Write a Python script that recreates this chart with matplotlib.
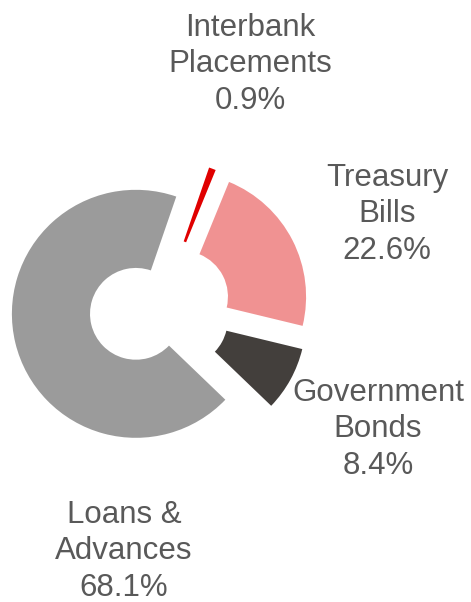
import matplotlib.pyplot as plt

# Portfolio split (clockwise from the top)
labels = ["Interbank\nPlacements", "Treasury\nBills", "Government\nBonds", "Loans &\nAdvances"]
shares = [0.9, 22.6, 8.4, 68.1]
colors = ["#E00000", "#F09292", "#433F3C", "#9B9B9B"]

# label anchors in pixel coords (x centre, baseline of last line, y measured up)
label_x = [250, 387, 378, 124]
label_y = [493, 343, 128, 6]

W, H = 471, 602
fig = plt.figure(figsize=(W / 100, H / 100), dpi=100)
ax = fig.add_axes([0, 0, 1, 1])

R = 124
cx, cy = 160, 602 - 308
# explode is in data units here, so scale it by the radius
ax.pie(
    shares,
    colors=colors,
    explode=[0.2 * R] * len(shares),
    startangle=71,
    counterclock=False,
    radius=R,
    center=(cx, cy),
    wedgeprops=dict(width=R * 0.63, linewidth=0),
)

for lab, val, x, y in zip(labels, shares, label_x, label_y):
    ax.text(x, y, f"{lab}\n{val:.1f}%", ha="center", va="baseline",
            fontsize=22.5, color="#595959", family=["Liberation Sans", "DejaVu Sans"],
            linespacing=1.29, multialignment="center")

ax.set_xlim(0, W)
ax.set_ylim(0, H)
ax.set_aspect("equal")
ax.axis("off")
fig.savefig("out.png", dpi=100)
